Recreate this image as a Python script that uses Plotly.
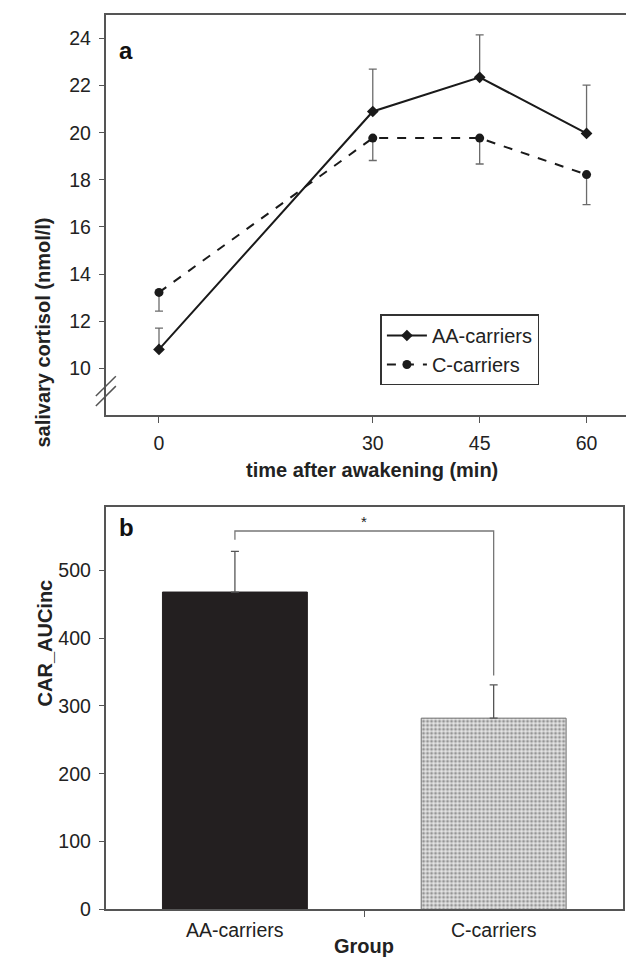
import plotly.graph_objects as go

# ---- Panel a data ----
time_min = [0, 30, 45, 60]
aa_cortisol = [10.8, 20.9, 22.35, 19.97]
aa_err_up = [0.9, 1.8, 1.8, 2.05]
c_cortisol = [13.22, 19.77, 19.77, 18.22]
c_err_down = [0.8, 0.95, 1.1, 1.27]
a_yticks = [10, 12, 14, 16, 18, 20, 22, 24]

# ---- Panel b data ----
groups = ["AA-carriers", "C-carriers"]
auc_values = [468, 282]
auc_err_up = [60, 49]
bracket_x = ["AA-carriers", "AA-carriers", "C-carriers", "C-carriers"]
bracket_y = [545, 558, 558, 345]
b_yticks = [0, 100, 200, 300, 400, 500]

FONT = "Liberation Sans, Arial, sans-serif"
AX = "#555555"
W, H = 634, 971
TICK = 19.5
TITLE = 20

fig = go.Figure()

fig.add_trace(go.Scatter(
    x=time_min, y=aa_cortisol, name="AA-carriers", mode="lines+markers",
    line=dict(color="#1a1a1a", width=2),
    marker=dict(symbol="diamond", size=9, color="#1a1a1a"),
    error_y=dict(type="data", symmetric=False, array=aa_err_up,
                 arrayminus=[0] * len(aa_err_up), color="#6b6b6b",
                 thickness=1.3, width=4),
    xaxis="x", yaxis="y"))
fig.add_trace(go.Scatter(
    x=time_min, y=c_cortisol, name="C-carriers", mode="lines+markers",
    line=dict(color="#1a1a1a", width=2, dash="dash"),
    marker=dict(symbol="circle", size=9, color="#1a1a1a"),
    error_y=dict(type="data", symmetric=False, array=[0] * len(c_err_down),
                 arrayminus=c_err_down, color="#6b6b6b",
                 thickness=1.3, width=4),
    xaxis="x", yaxis="y"))

fig.add_trace(go.Bar(
    x=groups, y=auc_values, width=0.56, showlegend=False,
    marker=dict(color=["#231f20", "#e6e6e6"],
                line=dict(color=["#231f20", "#6e6e6e"], width=1),
                pattern=dict(shape=["", "."], fgcolor="#8a8a8a",
                             bgcolor="#eeeeee", size=4, solidity=0.45)),
    error_y=dict(type="data", symmetric=False, array=auc_err_up,
                 arrayminus=[0, 0], color="#555555", thickness=1.3, width=4),
    xaxis="x2", yaxis="y2"))

fig.add_trace(go.Scatter(
    x=bracket_x, y=bracket_y, mode="lines", showlegend=False,
    line=dict(color="#777777", width=1.3), hoverinfo="skip",
    xaxis="x2", yaxis="y2"))

ax_common = dict(showline=True, linecolor=AX, linewidth=1.5, mirror=True,
                 ticks="outside", tickcolor=AX, showgrid=False, zeroline=False,
                 tickfont=dict(family=FONT, size=TICK, color="#222"))

fig.update_layout(
    width=W, height=H, margin=dict(l=0, r=0, t=0, b=0),
    paper_bgcolor="white", plot_bgcolor="white",
    font=dict(family=FONT, color="#222"),
    xaxis=dict(domain=[97.7 / W, 633 / W], range=[-7.5, 67.5],
               tickvals=time_min, ticklen=6, ticklabelstandoff=4,
               anchor="y", **ax_common),
    yaxis=dict(domain=[1 - 412 / H, 1 - 7 / H], range=[8, 25],
               tickvals=a_yticks, ticklen=5, ticklabelstandoff=4,
               anchor="x", **ax_common),
    xaxis2=dict(domain=[97.7 / W, 616 / W], range=[-0.5, 1.5],
                ticklen=6, ticklabelstandoff=4, anchor="y2",
                tickvals=[0.5], ticktext=[""], **ax_common),
    yaxis2=dict(domain=[1 - 911.7 / H, 1 - 505 / H], range=[0, 593],
                tickvals=b_yticks, ticklen=5, ticklabelstandoff=4,
                anchor="x2", **ax_common),
    legend=dict(x=373 / W, y=1 - 310 / H, xanchor="left", yanchor="top",
                bordercolor="#333", borderwidth=1.5, bgcolor="white",
                font=dict(family=FONT, size=20, color="#222"),
                tracegroupgap=2, itemwidth=40),
    bargap=0.44,
)

# category labels for bar chart (as annotations so ticks sit between bars)
for g in groups:
    fig.add_annotation(x=g, y=0, xref="x2", yref="y2", text=g, showarrow=False,
                       yanchor="top", yshift=-8,
                       font=dict(family=FONT, size=TICK, color="#222"))

# Titles
fig.add_annotation(x=365 / W, y=1 - 467 / H, xref="paper", yref="paper",
                   text="<b>time after awakening (min)</b>", showarrow=False,
                   font=dict(family=FONT, size=TITLE, color="#222"))
fig.add_annotation(x=22 / W, y=1 - 210 / H, xref="paper", yref="paper",
                   text="<b>salivary cortisol (nmol/l)</b>", showarrow=False,
                   textangle=-90, font=dict(family=FONT, size=TITLE, color="#222"))
fig.add_annotation(x=357 / W, y=1 - 962 / H, xref="paper", yref="paper",
                   text="<b>Group</b>", showarrow=False,
                   font=dict(family=FONT, size=TITLE, color="#222"))
fig.add_annotation(x=25 / W, y=1 - 708 / H, xref="paper", yref="paper",
                   text="<b>CAR_AUCinc</b>", showarrow=False,
                   textangle=-90, font=dict(family=FONT, size=TITLE, color="#222"))

# Panel letters
fig.add_annotation(x=109 / W, y=1 - 27 / H, xref="paper", yref="paper",
                   text="<b>a</b>", showarrow=False, xanchor="left",
                   font=dict(family=FONT, size=24, color="#111"))
fig.add_annotation(x=109 / W, y=1 - 525 / H, xref="paper", yref="paper",
                   text="<b>b</b>", showarrow=False, xanchor="left",
                   font=dict(family=FONT, size=24, color="#111"))

# significance star
fig.add_annotation(x=0.5, y=572, xref="x2", yref="y2", text="*",
                   showarrow=False, font=dict(family=FONT, size=15, color="#222"))

# axis break marks on panel a
for yc in [9.24, 8.82]:
    fig.add_shape(type="line", xref="paper", yref="y",
                  x0=88 / W, x1=108 / W, y0=yc - 0.42, y1=yc + 0.42,
                  line=dict(color="#555", width=1.5))

fig.write_html("out.html")
